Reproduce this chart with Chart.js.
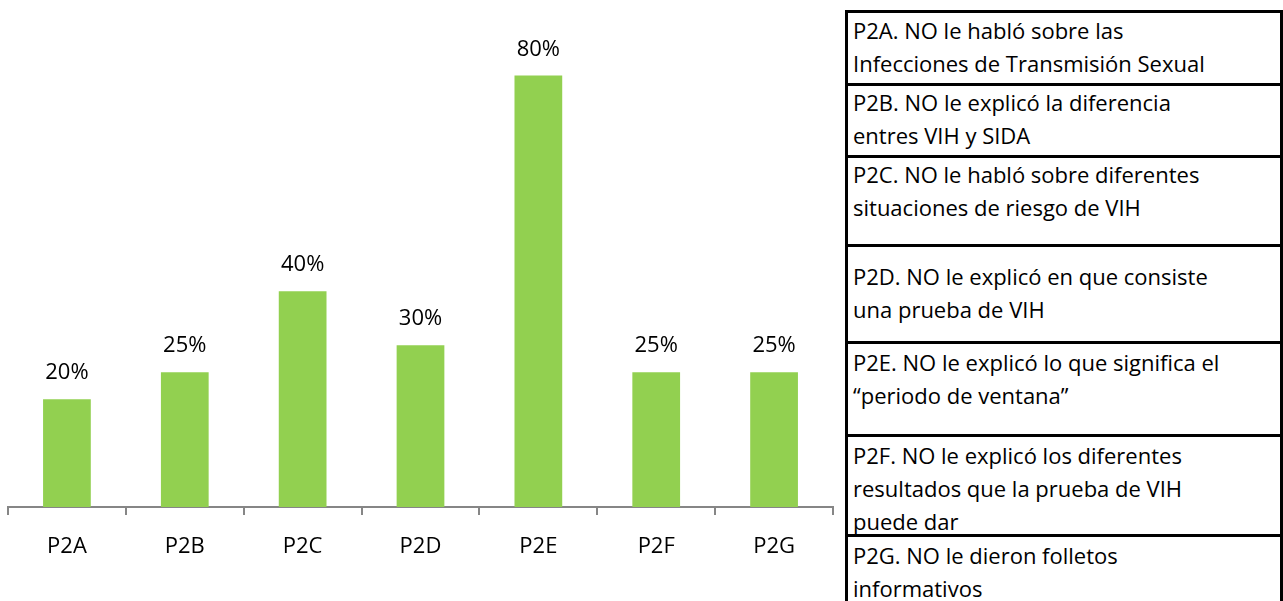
<!DOCTYPE html>
<html>
<head>
<meta charset="utf-8">
<script src="https://cdn.jsdelivr.net/npm/chart.js@4.4.1/dist/chart.umd.min.js"></script>
<style>
  html, body { margin: 0; padding: 0; background: #ffffff; }
  body { width: 1283px; height: 601px; position: relative; overflow: hidden; font-family: "Open Sans", sans-serif; }
  #chartWrap { position: absolute; left: 0; top: 0; width: 845px; height: 601px; }
  #legendTable { position: absolute; left: 845px; top: 10px; width: 438px; height: 600px; }
  .row { position: absolute; left: 0; border-left: 3px solid #000; border-right: 3px solid #000; border-top: 3px solid #000;
         font-size: 22px; line-height: 33px; color: #000; padding-left: 5px; box-sizing: border-box; width: 438px; white-space: nowrap; }
</style>
</head>
<body>
<div id="chartWrap"><canvas id="c" width="845" height="601"></canvas></div>
<div id="legendTable"></div>
<script>
// ---- data ----
const categories = ["P2A", "P2B", "P2C", "P2D", "P2E", "P2F", "P2G"];
const values = [20, 25, 40, 30, 80, 25, 25];
const legendTexts = [
  ["P2A. NO le habló sobre las", "Infecciones de Transmisión Sexual"],
  ["P2B. NO le explicó la diferencia", "entres VIH y SIDA"],
  ["P2C. NO le habló sobre diferentes", "situaciones de riesgo de VIH"],
  ["P2D. NO le explicó en que consiste", "una prueba de VIH"],
  ["P2E. NO le explicó lo que significa el", "\u201Cperiodo de ventana\u201D"],
  ["P2F. NO le explicó los diferentes", "resultados que la prueba de VIH", "puede dar"],
  ["P2G. NO le dieron folletos", "informativos"]
];

// ---- legend table layout (styles only) ----
const rowTops = [0, 73, 145, 234, 331, 424, 524];
const rowPad = [1, 0, 0, 13, 2, 2, 2];
const table = document.getElementById('legendTable');
legendTexts.forEach((lines, i) => {
  const d = document.createElement('div');
  d.className = 'row';
  d.style.top = rowTops[i] + 'px';
  const h = (i + 1 < rowTops.length ? rowTops[i + 1] : 620) - rowTops[i];
  d.style.height = h + 'px';
  d.style.paddingTop = rowPad[i] + 'px';
  lines.forEach(l => {
    const ln = document.createElement('div');
    ln.textContent = l;
    d.appendChild(ln);
  });
  table.appendChild(d);
});

// ---- value labels plugin ----
const valueLabels = {
  id: 'valueLabels',
  afterDatasetsDraw(chart) {
    const ctx = chart.ctx;
    const meta = chart.getDatasetMeta(0);
    ctx.save();
    ctx.font = '22px "Open Sans"';
    ctx.fillStyle = '#000';
    ctx.textAlign = 'center';
    ctx.textBaseline = 'alphabetic';
    meta.data.forEach((bar, i) => {
      ctx.fillText(values[i] + '%', bar.x, bar.y - 20);
    });
    ctx.restore();
  }
};

new Chart(document.getElementById('c'), {
  type: 'bar',
  data: {
    labels: categories,
    datasets: [{
      data: values,
      backgroundColor: '#92D050',
      borderWidth: 0,
      categoryPercentage: 1.0,
      barPercentage: 0.405
    }]
  },
  options: {
    responsive: false,
    devicePixelRatio: 1,
    animation: false,
    layout: { padding: { left: 8, right: 12, top: 0, bottom: 0 } },
    plugins: { legend: { display: false }, tooltip: { enabled: false } },
    scales: {
      y: { display: false, min: 0, max: 94 },
      x: {
        afterFit(scale) { scale.height = 94; },
        border: { display: true, color: '#868686', width: 2 },
        grid: { offset: true, drawOnChartArea: false, drawTicks: true, tickLength: 8, color: '#868686', lineWidth: 2 },
        ticks: { color: '#000', font: { family: 'Open Sans', size: 22 }, padding: 19 }
      }
    }
  },
  plugins: [valueLabels]
});
</script>
</body>
</html>
